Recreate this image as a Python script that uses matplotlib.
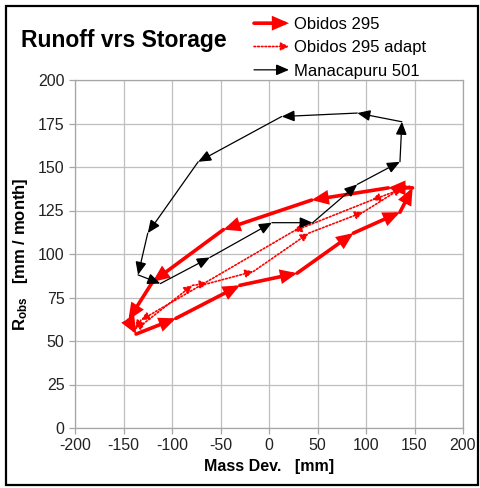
import matplotlib
matplotlib.use('Agg')
import matplotlib.pyplot as plt
from matplotlib.patches import FancyArrowPatch, Rectangle
from matplotlib.legend_handler import HandlerBase

plt.rcParams['font.family'] = ['Liberation Sans', 'DejaVu Sans']
plt.rcParams['mathtext.fontset'] = 'custom'
plt.rcParams['mathtext.bf'] = 'Liberation Sans:bold'
plt.rcParams['mathtext.rm'] = 'Liberation Sans'
plt.rcParams['axes.unicode_minus'] = False

# Obidos 295 (ciclo anual, 12 meses)
obidos_x = [-145, -137, -96, -30, 29, 87, 135, 148, 123, 44, -47, -120]
obidos_y = [62, 54, 63, 82, 89, 112, 124, 138, 138, 131, 114, 84]

# Obidos 295 adapt
adapt_x = [-138, -127, -79, -63, -16, 41, 97, 137, 145, 106, 25, -132]
adapt_y = [57, 61, 82, 83, 90, 112, 124, 138, 139, 131, 113, 62]

# Manacapuru 501
manaca_x = [45, 91, 135, 137, 91, 13, -73, -125, -135, -112, -61, 3]
manaca_y = [118, 140, 153, 176, 181, 179, 153, 112, 88, 83, 98, 118]

labels = ['Obidos 295', 'Obidos 295 adapt', 'Manacapuru 501']
x_ticks = [-200, -150, -100, -50, 0, 50, 100, 150, 200]
y_ticks = [0, 25, 50, 75, 100, 125, 150, 175, 200]

estilos = [
    dict(arrowstyle='-|>,head_length=0.6,head_width=0.26', color='#ff0000', lw=2.6,
         linestyle='-', mutation_scale=13),
    dict(arrowstyle='-|>,head_length=0.6,head_width=0.3', color='#ff0000', lw=1.2,
         linestyle=(0, (1, 1.2)), mutation_scale=8),
    dict(arrowstyle='-|>,head_length=0.65,head_width=0.28', color='#000000', lw=0.9,
         linestyle='-', mutation_scale=12),
]


class HandlerArrow(HandlerBase):
    def __init__(self, style):
        super().__init__()
        self.style = style

    def create_artists(self, legend, orig_handle, xdescent, ydescent, width, height, fontsize, trans):
        y = height / 2 - ydescent
        p = FancyArrowPatch((-xdescent, y), (-xdescent + width, y), shrinkA=0, shrinkB=0,
                            joinstyle='miter', **self.style)
        p.set_transform(trans)
        return [p]


fig = plt.figure(figsize=(4.81, 4.88), dpi=100)
ax = fig.add_axes([75 / 481, 60 / 488, 388 / 481, 348 / 488])

ax.set_xlim(-200, 200)
ax.set_ylim(0, 200)
ax.set_xticks(x_ticks)
ax.set_yticks(y_ticks)
ax.grid(True, color='#bfbfbf', lw=0.9)
ax.set_axisbelow(True)
for s in ax.spines.values():
    s.set_color('#a6a6a6')
    s.set_linewidth(0.9)
ax.tick_params(colors='#a6a6a6', labelcolor='#222222', labelsize=11.5, length=4, width=0.9)

series = [(obidos_x, obidos_y), (adapt_x, adapt_y), (manaca_x, manaca_y)]
handles = []
for (xs, ys), st in zip(series, estilos):
    n = len(xs)
    for i in range(n):
        j = (i + 1) % n
        ax.annotate('', xy=(xs[j], ys[j]), xytext=(xs[i], ys[i]),
                    arrowprops=dict(shrinkA=0, shrinkB=0, joinstyle='miter', **st))
    handles.append(FancyArrowPatch((0, 0), (1, 0), **st))

ax.set_xlabel('Mass Dev.   [mm]', fontsize=11.5, fontweight='bold', labelpad=4)
ax.set_ylabel(r'$\mathbf{R_{obs}}$   [mm / month]', fontsize=12, fontweight='bold', labelpad=6)

fig.text(21 / 481, 1 - 40 / 488, 'Runoff vrs Storage', fontsize=16.5, fontweight='bold',
         va='center', ha='left')

fig.legend(handles, labels, handler_map={h: HandlerArrow(st) for h, st in zip(handles, estilos)},
           loc='upper left', bbox_to_anchor=(254 / 481, 1 - 17 / 488), frameon=False,
           fontsize=12, handlelength=2.1, handletextpad=0.3, labelspacing=0.5,
           borderaxespad=0, borderpad=0)

fig.patches.append(Rectangle((6 / 481, 3 / 488), 472 / 481, 479 / 488, transform=fig.transFigure,
                             fill=False, edgecolor='black', lw=1.6))

fig.savefig('out.png', dpi=100)
